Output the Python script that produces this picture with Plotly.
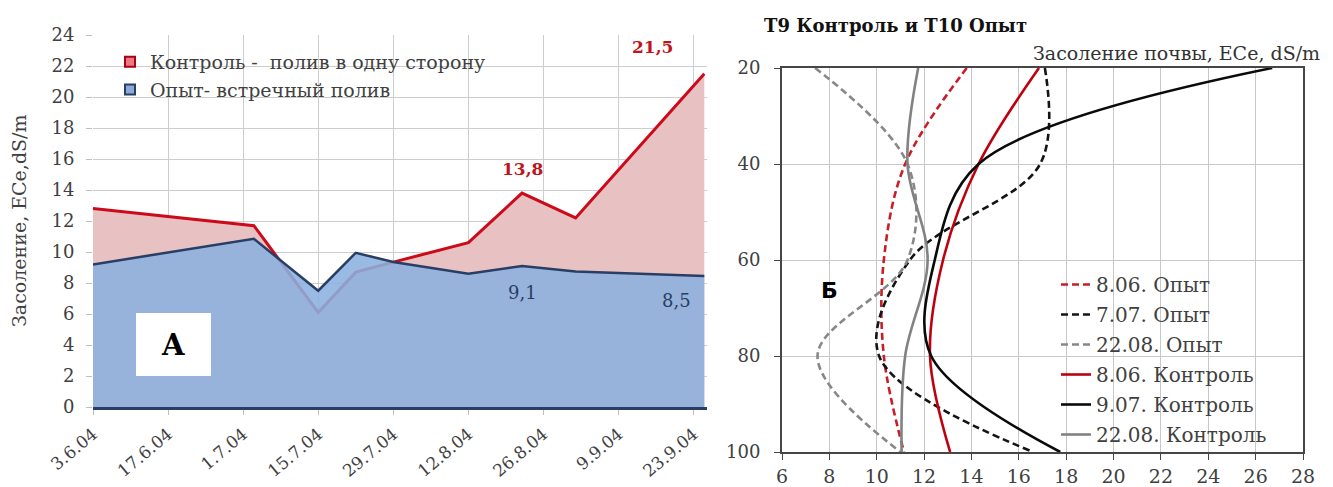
import plotly.graph_objects as go

W, H = 1333, 487

# ---------------- Left chart data (A) ----------------
dates = ["2004-06-03", "2004-07-03", "2004-07-15", "2004-07-22", "2004-07-29",
         "2004-08-12", "2004-08-22", "2004-09-01", "2004-09-25"]
control_ece = [12.8, 11.7, 6.1, 8.7, 9.35, 10.6, 13.8, 12.2, 21.5]
opyt_ece = [9.2, 10.85, 7.5, 9.95, 9.35, 8.6, 9.1, 8.75, 8.45]
left_ticks = ["2004-06-03", "2004-06-17", "2004-07-01", "2004-07-15", "2004-07-29",
              "2004-08-12", "2004-08-26", "2004-09-09", "2004-09-23"]
left_ticklabels = ["3.6.04", "17.6.04", "1.7.04", "15.7.04", "29.7.04",
                   "12.8.04", "26.8.04", "9.9.04", "23.9.04"]
left_legend = ["Контроль -  полив в одну сторону", "Опыт- встречный полив"]
left_yticks = list(range(0, 25, 2))

# ---------------- Right chart data (Б) ----------------
depths = [20, 40, 60, 80, 100]
opyt_0806 = [13.8, 11.2, 10.3, 10.3, 11.15]
opyt_0707 = [17.1, 16.9, 11.4, 10.1, 16.6]
opyt_2208 = [7.4, 11.3, 11.3, 7.5, 11.0]
ctrl_0806 = [16.85, 14.3, 12.8, 12.25, 13.1]
ctrl_0907 = [26.7, 14.3, 12.45, 12.3, 17.75]
ctrl_2208 = [11.75, 11.3, 12.15, 11.2, 11.05]
right_names = ["8.06. Опыт", "7.07. Опыт", "22.08. Опыт",
               "8.06. Контроль", "9.07. Контроль", "22.08. Контроль"]
right_xticks = list(range(6, 29, 2))
right_yticks = [20, 40, 60, 80, 100]

SERIF = "DejaVu Serif"
RED = "rgb(205,10,25)"
NAVY = "rgb(40,62,100)"

fig = go.Figure()

# Left: area traces
fig.add_trace(go.Scatter(
    x=dates, y=control_ece, mode="lines", fill="tozeroy",
    line=dict(color=RED, width=3), fillcolor="rgb(232,194,195)",
    showlegend=False, xaxis="x", yaxis="y", hoverinfo="skip"))
fig.add_trace(go.Scatter(
    x=dates, y=opyt_ece, mode="lines", fill="tozeroy",
    line=dict(color=NAVY, width=2.5), fillcolor="rgba(139,176,223,0.88)",
    showlegend=False, xaxis="x", yaxis="y", hoverinfo="skip"))

# Left legend entries
fig.add_trace(go.Scatter(
    x=[None], y=[None], mode="markers", name=left_legend[0],
    marker=dict(symbol="square", size=10, color="rgb(235,120,130)",
                line=dict(color="rgb(170,0,20)", width=2)),
    legend="legend", xaxis="x", yaxis="y"))
fig.add_trace(go.Scatter(
    x=[None], y=[None], mode="markers", name=left_legend[1],
    marker=dict(symbol="square", size=10, color="rgb(140,170,215)",
                line=dict(color=NAVY, width=2)),
    legend="legend", xaxis="x", yaxis="y"))

# Right: profile curves
styles = [
    (opyt_0806, "rgb(200,30,40)", "7px,4px"),
    (opyt_0707, "rgb(20,20,20)", "7px,4px"),
    (opyt_2208, "rgb(135,135,135)", "7px,4px"),
    (ctrl_0806, "rgb(190,0,15)", "solid"),
    (ctrl_0907, "rgb(10,10,10)", "solid"),
    (ctrl_2208, "rgb(130,130,130)", "solid"),
]
for i, (vals, col, dash) in enumerate(styles):
    fig.add_trace(go.Scatter(
        x=vals, y=depths, mode="lines", name=right_names[i],
        line=dict(color=col, width=2.6, dash=dash, shape="spline", smoothing=1.0),
        legend="legend2", legendgroup=f"g{i}", xaxis="x2", yaxis="y2",
        hoverinfo="skip"))

def px_x(p):
    return p / W

def px_y(p):
    return 1 - p / H

fig.update_layout(
    width=W, height=H,
    margin=dict(l=0, r=0, t=0, b=0, autoexpand=False),
    paper_bgcolor="white", plot_bgcolor="white",
    font=dict(family=SERIF, size=17, color="#404040"),
    xaxis=dict(
        domain=[px_x(93), px_x(707)], type="date", automargin=False,
        range=["2004-06-03", "2004-09-25 12:00"],
        tickvals=left_ticks, ticktext=left_ticklabels, tickangle=-40,
        tickfont=dict(family=SERIF, size=17, color="#404040"),
        ticklabelstandoff=3,
        showgrid=True, gridcolor="rgb(205,205,205)", gridwidth=1,
        showline=True, linecolor=NAVY, linewidth=2.5,
        ticks="outside", ticklen=5, tickcolor="rgb(190,190,190)",
        zeroline=False, anchor="y"),
    yaxis=dict(
        domain=[px_y(407), px_y(35)], range=[0, 24], automargin=False,
        tickvals=left_yticks,
        tickfont=dict(family=SERIF, size=18, color="#404040"),
        ticklabelstandoff=8,
        showgrid=True, gridcolor="rgb(205,205,205)", gridwidth=1,
        ticks="outside", ticklen=6, tickcolor="rgb(190,190,190)",
        zeroline=False, showline=False, anchor="x"),
    xaxis2=dict(
        domain=[px_x(782), px_x(1303)], range=[6, 28], automargin=False,
        tickvals=right_xticks,
        tickfont=dict(family=SERIF, size=19, color="#404040"),
        ticklabelstandoff=0,
        showgrid=True, gridcolor="rgb(200,200,200)", gridwidth=1,
        showline=True, linecolor="rgb(70,70,70)", linewidth=2, mirror=True,
        ticks="outside", ticklen=6, tickcolor="rgb(70,70,70)",
        zeroline=False, anchor="y2"),
    yaxis2=dict(
        domain=[px_y(452), px_y(68)], range=[100, 20], automargin=False,
        tickvals=right_yticks,
        tickfont=dict(family=SERIF, size=18, color="#404040"),
        ticklabelstandoff=10,
        showgrid=True, gridcolor="rgb(200,200,200)", gridwidth=1,
        showline=True, linecolor="rgb(70,70,70)", linewidth=2, mirror=True,
        ticks="outside", ticklen=6, tickcolor="rgb(70,70,70)",
        zeroline=False, anchor="x2"),
    legend=dict(
        x=px_x(110), y=px_y(43), xanchor="left", yanchor="top",
        bgcolor="rgba(0,0,0,0)", tracegroupgap=0,
        font=dict(family=SERIF, size=19, color="#404040")),
    legend2=dict(
        x=px_x(1056), y=px_y(265), xanchor="left", yanchor="top",
        bgcolor="rgba(0,0,0,0)", tracegroupgap=1,
        font=dict(family=SERIF, size=20, color="#404040")),
)

def label(xp, yp, text, size, color, family=SERIF, angle=0):
    return dict(x=px_x(xp), y=px_y(yp), xref="paper", yref="paper", text=text,
                textangle=angle, showarrow=False, xanchor="center", yanchor="middle",
                font=dict(family=family, size=size, color=color))

annotations = [
    # left y-axis title
    label(19, 221, "Засоление, ECe,dS/m", 19, "#404040", angle=-90),
    # data labels, left chart
    dict(x=dates[6], y=control_ece[6], xref="x", yref="y", text="<b>13,8</b>",
         showarrow=False, yshift=24, xanchor="center", yanchor="middle",
         font=dict(family=SERIF, size=17, color="rgb(190,20,30)")),
    dict(x=dates[8], y=control_ece[8], xref="x", yref="y", text="<b>21,5</b>",
         showarrow=False, yshift=27, xshift=-52, xanchor="center", yanchor="middle",
         font=dict(family=SERIF, size=17, color="rgb(190,20,30)")),
    dict(x=dates[6], y=opyt_ece[6], xref="x", yref="y", text="9,1",
         showarrow=False, yshift=-27, xanchor="center", yanchor="middle",
         font=dict(family=SERIF, size=18, color=NAVY)),
    dict(x=dates[8], y=opyt_ece[8], xref="x", yref="y", text="8,5",
         showarrow=False, yshift=-24, xshift=-28, xanchor="center", yanchor="middle",
         font=dict(family=SERIF, size=18, color=NAVY)),
    # panel letters
    label(173, 345, "<b>A</b>", 29, "black"),
    label(829, 290, "<b>Б</b>", 22, "black", family="DejaVu Sans"),
    # right chart titles
    dict(x=px_x(762), y=px_y(25), xref="paper", yref="paper", text="<b>T9 Контроль и T10 Опыт</b>",
         showarrow=False, xanchor="left", yanchor="middle",
         font=dict(family=SERIF, size=18, color="#111")),
    dict(x=px_x(1322), y=px_y(53), xref="paper", yref="paper", text="Засоление почвы, ECe, dS/m",
         showarrow=False, xanchor="right", yanchor="middle",
         font=dict(family=SERIF, size=19, color="#333")),
]
fig.update_layout(annotations=annotations)

fig.update_layout(shapes=[
    dict(type="rect", xref="paper", yref="paper", x0=px_x(136), x1=px_x(211),
         y0=px_y(376), y1=px_y(313), fillcolor="white", line=dict(width=0), layer="above"),
    dict(type="rect", xref="paper", yref="paper", x0=px_x(797), x1=px_x(858),
         y0=px_y(313), y1=px_y(257), fillcolor="white", line=dict(width=0), layer="between"),
])

fig.write_html("out.html")
